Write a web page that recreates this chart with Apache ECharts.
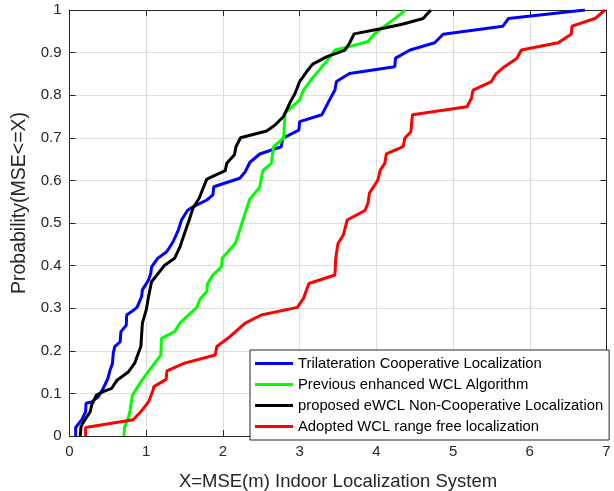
<!DOCTYPE html>
<html>
<head>
<meta charset="utf-8">
<script src="https://cdn.jsdelivr.net/npm/echarts@6/dist/echarts.min.js"></script>
<style>
  html, body { margin: 0; padding: 0; background: #fff; }
  #chart { width: 614px; height: 491px; }
</style>
</head>
<body>
<div id="chart"></div>
<script>
  // series names
  var names = [
    'Trilateration Cooperative Localization',
    'Previous enhanced WCL Algorithm',
    'proposed eWCL Non-Cooperative Localization',
    'Adopted WCL range free localization'
  ];

  // [MSE, probability] points
  var trilateration = [
    [0.08, 0], [0.08, 0.02], [0.16, 0.038], [0.21, 0.057], [0.215, 0.077], [0.29, 0.08],
    [0.375, 0.092], [0.44, 0.112], [0.50, 0.135], [0.53, 0.155], [0.56, 0.17], [0.57, 0.194],
    [0.59, 0.21], [0.66, 0.221], [0.67, 0.245], [0.74, 0.26], [0.745, 0.284], [0.81, 0.292],
    [0.88, 0.302], [0.94, 0.327], [0.95, 0.343], [1.03, 0.366], [1.06, 0.382], [1.07, 0.397],
    [1.15, 0.417], [1.27, 0.433], [1.35, 0.456], [1.42, 0.484], [1.46, 0.507], [1.54, 0.53],
    [1.61, 0.538], [1.79, 0.554], [1.87, 0.566], [1.88, 0.585], [2.22, 0.605], [2.29, 0.62],
    [2.35, 0.642], [2.48, 0.662], [2.76, 0.679], [2.78, 0.699], [2.99, 0.718], [3.0, 0.738],
    [3.29, 0.754], [3.39, 0.789], [3.46, 0.812], [3.48, 0.832], [3.65, 0.851], [4.24, 0.867],
    [4.25, 0.887], [4.44, 0.906], [4.76, 0.923], [4.87, 0.943], [5.65, 0.962], [5.72, 0.98],
    [6.72, 1.0]
  ];

  var previousWcl = [
    [0.71, 0], [0.72, 0.022], [0.77, 0.045], [0.79, 0.061], [0.82, 0.096], [0.92, 0.124],
    [1.01, 0.147], [1.11, 0.171], [1.19, 0.19], [1.20, 0.229], [1.37, 0.245], [1.44, 0.265],
    [1.55, 0.284], [1.66, 0.302], [1.70, 0.321], [1.79, 0.339], [1.80, 0.358], [1.87, 0.378],
    [1.98, 0.397], [1.99, 0.417], [2.16, 0.452], [2.20, 0.472], [2.26, 0.507], [2.35, 0.556],
    [2.48, 0.584], [2.52, 0.623], [2.63, 0.64], [2.66, 0.679], [2.79, 0.699], [2.81, 0.758],
    [3.0, 0.789], [3.05, 0.812], [3.18, 0.843], [3.35, 0.879], [3.46, 0.906], [3.65, 0.914],
    [3.89, 0.926], [3.98, 0.945], [4.22, 0.977], [4.38, 1.0]
  ];

  var proposedEwcl = [
    [0.14, 0], [0.15, 0.022], [0.2, 0.038], [0.27, 0.057], [0.29, 0.073], [0.35, 0.096],
    [0.44, 0.104], [0.55, 0.112], [0.62, 0.131], [0.77, 0.151], [0.85, 0.171], [0.88, 0.186],
    [0.93, 0.21], [0.94, 0.237], [0.95, 0.265], [1.0, 0.296], [1.03, 0.327], [1.07, 0.362],
    [1.14, 0.378], [1.24, 0.401], [1.37, 0.417], [1.44, 0.444], [1.5, 0.476], [1.56, 0.507],
    [1.61, 0.535], [1.69, 0.558], [1.74, 0.581], [1.79, 0.603], [2.03, 0.623], [2.05, 0.64],
    [2.15, 0.66], [2.17, 0.679], [2.23, 0.70], [2.57, 0.716], [2.68, 0.73], [2.79, 0.75],
    [2.87, 0.781], [2.94, 0.804], [3.0, 0.832], [3.09, 0.855], [3.17, 0.873], [3.35, 0.89],
    [3.59, 0.906], [3.65, 0.922], [3.71, 0.944], [4.09, 0.957], [4.35, 0.967], [4.61, 0.98],
    [4.71, 1.0]
  ];

  var adoptedWcl = [
    [0.21, 0], [0.21, 0.02], [0.83, 0.038], [0.92, 0.055], [1.03, 0.08], [1.09, 0.108],
    [1.10, 0.116], [1.26, 0.133], [1.27, 0.153], [1.50, 0.171], [1.90, 0.19], [1.92, 0.21],
    [2.09, 0.233], [2.29, 0.265], [2.50, 0.284], [2.97, 0.302], [3.05, 0.323], [3.12, 0.358],
    [3.46, 0.378], [3.47, 0.417], [3.50, 0.452], [3.57, 0.472], [3.62, 0.507], [3.85, 0.529],
    [3.89, 0.546], [3.91, 0.57], [4.02, 0.601], [4.05, 0.624], [4.11, 0.64], [4.13, 0.662],
    [4.35, 0.679], [4.37, 0.699], [4.45, 0.714], [4.47, 0.754], [5.18, 0.773], [5.24, 0.793],
    [5.26, 0.812], [5.50, 0.832], [5.56, 0.85], [5.67, 0.867], [5.83, 0.886], [5.89, 0.906],
    [6.37, 0.923], [6.54, 0.943], [6.55, 0.962], [6.85, 0.98], [6.98, 1.0]
  ];

  var colors = ['#0000ff', '#00ff00', '#000000', '#ff0000'];
  var seriesData = [trilateration, previousWcl, proposedEwcl, adoptedWcl];

  var chart = echarts.init(document.getElementById('chart'));

  var fontFamily = 'Liberation Sans, Arial, sans-serif';
  var labelStyle = { color: '#262626', fontFamily: fontFamily, fontSize: 15 };
  var lineStyle = { color: '#262626', width: 1 };
  var tick = { show: true, inside: true, length: 6, lineStyle: lineStyle };
  // the box axes (top/right) must not jump to the zero line
  var boxLine = { show: true, onZero: false, lineStyle: lineStyle };

  chart.setOption({
    animation: false,
    color: colors,
    grid: {
      left: 69.5,
      right: 7.5,
      top: 10,
      bottom: 55,
      outerBoundsMode: 'none'
    },
    legend: {
      orient: 'vertical',
      left: 250,
      top: 350,
      data: names,
      icon: 'rect',
      itemWidth: 38,
      itemHeight: 3,
      itemGap: 6,
      padding: [6, 6, 6, 5],
      backgroundColor: '#fff',
      borderColor: '#262626',
      borderWidth: 1,
      borderRadius: 0,
      textStyle: {
        color: '#000',
        fontFamily: fontFamily,
        fontSize: 14.8,
        lineHeight: 14
      }
    },
    xAxis: [
      {
        type: 'value',
        min: 0,
        max: 7,
        interval: 1,
        name: 'X=MSE(m) Indoor Localization System',
        nameLocation: 'middle',
        nameGap: 36,
        nameTextStyle: { color: '#262626', fontFamily: fontFamily, fontSize: 18.5 },
        axisLine: boxLine,
        axisTick: tick,
        axisLabel: Object.assign({ margin: 8 }, labelStyle),
        splitLine: { show: true, lineStyle: { color: '#dfdfdf', width: 1 } }
      },
      {
        type: 'value',
        position: 'top',
        min: 0,
        max: 7,
        interval: 1,
        axisLine: boxLine,
        axisTick: tick,
        axisLabel: { show: false },
        splitLine: { show: false }
      }
    ],
    yAxis: [
      {
        type: 'value',
        min: 0,
        max: 1,
        interval: 0.1,
        name: 'Probability(MSE<=X)',
        nameLocation: 'middle',
        nameGap: 40,
        nameTextStyle: {
          color: '#262626',
          fontFamily: fontFamily,
          fontSize: 19.5,
          padding: [0, 0, 0, 40]
        },
        axisLine: boxLine,
        axisTick: tick,
        axisLabel: Object.assign({ margin: 8 }, labelStyle),
        splitLine: { show: true, lineStyle: { color: '#dfdfdf', width: 1 } }
      },
      {
        type: 'value',
        position: 'right',
        min: 0,
        max: 1,
        interval: 0.1,
        axisLine: boxLine,
        axisTick: tick,
        axisLabel: { show: false },
        splitLine: { show: false }
      }
    ],
    series: seriesData.map(function (pts, i) {
      return {
        name: names[i],
        type: 'line',
        xAxisIndex: 0,
        yAxisIndex: 0,
        data: pts,
        showSymbol: false,
        symbol: 'none',
        smooth: false,
        lineStyle: { width: 3, color: colors[i] },
        itemStyle: { color: colors[i] }
      };
    })
  });
</script>
</body>
</html>
